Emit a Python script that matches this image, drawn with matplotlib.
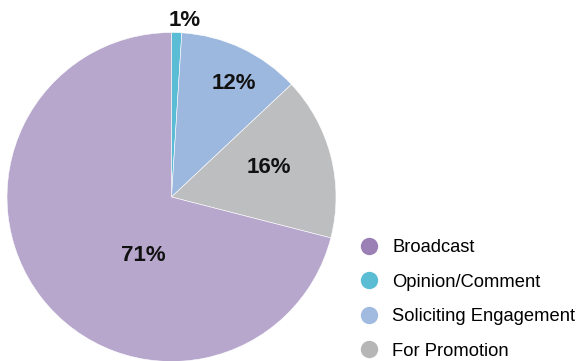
import matplotlib.pyplot as plt
from matplotlib.lines import Line2D

# slice order, clockwise from 12 o'clock
categories = ["Opinion/Comment", "Soliciting Engagement", "For Promotion", "Broadcast"]
shares = [1, 12, 16, 71]

# legend order
legend_order = ["Broadcast", "Opinion/Comment", "Soliciting Engagement", "For Promotion"]

slice_colors = {
    "Broadcast": "#b7a7cd",
    "Opinion/Comment": "#5bbdd5",
    "Soliciting Engagement": "#9db8de",
    "For Promotion": "#bdbec0",
}
legend_colors = {
    "Broadcast": "#9a80b5",
    "Opinion/Comment": "#5bbdd3",
    "Soliciting Engagement": "#a0bae0",
    "For Promotion": "#b6b6b6",
}

# where each percentage sits (data units, pie radius = 1)
label_xy = {
    "Opinion/Comment": (0.08, 1.07),
    "Soliciting Engagement": (0.38, 0.69),
    "For Promotion": (0.59, 0.18),
    "Broadcast": (-0.17, -0.355),
}

plt.rcParams["font.family"] = ["Liberation Sans", "DejaVu Sans"]

W, H = 578, 361
fig = plt.figure(figsize=(W / 100, H / 100), dpi=100)
cx, cy, r = 171.5, 197, 164.5
ax = fig.add_axes([(cx - r) / W, (H - cy - r) / H, 2 * r / W, 2 * r / H])

ax.pie(shares, colors=[slice_colors[c] for c in categories], startangle=90,
       counterclock=False, radius=1,
       wedgeprops=dict(edgecolor="white", linewidth=0.4))
ax.set_xlim(-1, 1)
ax.set_ylim(-1, 1)
ax.set_aspect("equal")
ax.axis("off")

for cat, val in zip(categories, shares):
    x, y = label_xy[cat]
    ax.text(x, y, f"{val}%", ha="center", va="center", fontsize=16,
            fontweight="bold", color="#111111", clip_on=False)

handles = [Line2D([], [], linestyle="none", marker="o", markersize=12.5,
                  markerfacecolor=legend_colors[c], markeredgecolor="none")
           for c in legend_order]
fig.legend(handles, legend_order, loc="upper left",
           bbox_to_anchor=(358 / W, 1 - 239 / H), frameon=False,
           fontsize=13.2, handletextpad=0.68, labelspacing=0.96,
           handlelength=1.2, borderaxespad=0, borderpad=0)

fig.savefig("out.png", dpi=100)
